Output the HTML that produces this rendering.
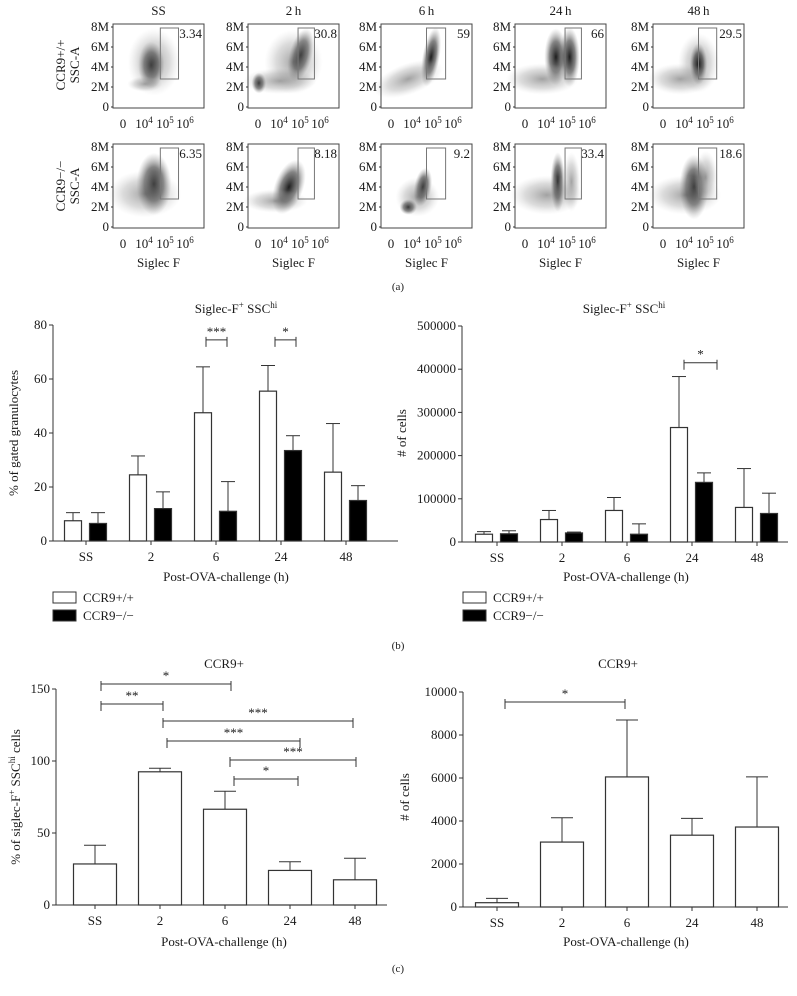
<!DOCTYPE html>
<html><head><meta charset="utf-8"><style>
html,body{margin:0;padding:0;background:#fff;}
svg{display:block;font-family:"Liberation Serif",serif;}
</style></head><body>
<svg id="fig" width="797" height="996" viewBox="0 0 797 996" xmlns="http://www.w3.org/2000/svg">
<defs>
<radialGradient id="blobD"><stop offset="0" stop-color="#111" stop-opacity="0.95"/><stop offset="0.55" stop-color="#333" stop-opacity="0.6"/><stop offset="1" stop-color="#888" stop-opacity="0"/></radialGradient>
<radialGradient id="blobL"><stop offset="0" stop-color="#555" stop-opacity="0.55"/><stop offset="0.6" stop-color="#888" stop-opacity="0.3"/><stop offset="1" stop-color="#bbb" stop-opacity="0"/></radialGradient>
</defs>
<g id="root"></g>
</svg>
<script>
// ---------- Flow panels data ----------
const flowCols = ["SS","2\u2009h","6\u2009h","24\u2009h","48\u2009h"];
const flowRow1Pct = ["3.34","30.8","59","66","29.5"];
const flowRow2Pct = ["6.35","8.18","9.2","33.4","18.6"];
const yTickLabelsFlow = ["8M","6M","4M","2M","0"];
// ---------- Chart (b) left ----------
const catsB = ["SS","2","6","24","48"];
const b1Wt = [7.5,24.5,47.5,55.5,25.5];
const b1WtErr = [10.5,31.5,64.5,65,43.5];
const b1Ko = [6.5,12,11,33.5,15];
const b1KoErr = [10.5,18.2,22,39,20.5];
const b1Ticks = [0,20,40,60,80];
// ---------- Chart (b) right ----------
const b2Wt = [18000,52000,73000,265000,80000];
const b2WtErr = [24000,73000,103000,383000,170000];
const b2Ko = [19000,21000,18000,138000,66000];
const b2KoErr = [26000,23000,42000,160000,113000];
const b2Ticks = [0,100000,200000,300000,400000,500000];
// ---------- Chart (c) ----------
const catsC = ["SS","2","6","24","48"];
const c1Vals = [28.5,92.5,66.5,24,17.5];
const c1Err = [41.5,95,79,30,32.5];
const c1Ticks = [0,50,100,150];
const c2Vals = [200,3020,6050,3340,3720];
const c2Err = [400,4150,8700,4120,6050];
const c2Ticks = [0,2000,4000,6000,8000,10000];

const NS="http://www.w3.org/2000/svg";
const root=document.getElementById('root');
function mk(tag,attrs,name,parent){
  const el=document.createElementNS(NS,tag);
  for(const k in attrs) el.setAttribute(k,attrs[k]);
  
  
  (parent||root).appendChild(el);
  return el;
}
function txt(x,y,s,size,name,anchor,extra){
  const t=mk('text',Object.assign({x:x,y:y,'font-size':size,'text-anchor':anchor||'middle',fill:'#1a1a1a'},extra||{}),name);
  t.textContent=s;return t;
}
function line(x1,y1,x2,y2,name,w,col){
  return mk('line',{x1:x1,y1:y1,x2:x2,y2:y2,stroke:col||'#333','stroke-width':w||1},name);
}

// ---------- Flow panels ----------
const boxX=[113,248,381,515,653], boxW=91;
const rowsY=[24,144], boxH=84;
const blobs=[
 [[[0.42,4.2,0.09,1.8,1,0],[0.35,2.3,0.12,0.6,0,0],[0.45,4.5,0.18,2.6,0,0]],
  [[0.58,5.2,0.08,2.1,1,15],[0.12,2.4,0.05,0.8,1,0],[0.35,2.6,0.25,1.0,0,0],[0.5,4.5,0.2,2.5,0,0]],
  [[0.55,5.0,0.06,2.3,1,10],[0.3,2.8,0.25,1.2,0,-20]],
  [[0.45,5.0,0.08,2.2,1,0],[0.6,5.0,0.07,2.3,1,0],[0.3,2.8,0.25,1.2,0,0]],
  [[0.5,4.4,0.14,2.3,0,0],[0.5,4.3,0.06,1.6,1,0],[0.3,2.8,0.22,1.2,0,0]]],
 [[[0.45,4.3,0.12,2.4,1,0],[0.35,3.3,0.25,1.8,0,0]],
  [[0.45,4.0,0.1,2.2,1,20],[0.3,2.6,0.22,0.9,0,0]],
  [[0.3,2.0,0.06,0.6,1,0],[0.46,4.0,0.06,1.5,1,10],[0.4,3.0,0.15,1.5,0,0]],
  [[0.47,4.5,0.05,2.3,1,0],[0.62,4.5,0.06,2.3,0,0],[0.35,3.2,0.25,1.5,0,0]],
  [[0.45,4.0,0.1,2.5,1,0],[0.58,5.0,0.08,2.0,0,0],[0.35,3.2,0.25,1.5,0,0]]]
];
const gates=[[0.52,0.72],[0.55,0.73],[0.5,0.71],[0.55,0.73],[0.5,0.7]];
flowCols.forEach((c,i)=>{
  txt(boxX[i]+boxW/2,15,c,13,'flow-column-title-'+i);
});
for(let r=0;r<2;r++){
  for(let i=0;i<5;i++){
    const x0=boxX[i], y0=rowsY[r];
    const yv=v=>y0+83-v*10;
    const g=mk('g',{},'flow-panel-r'+(r+1)+'-c'+(i+1));
    blobs[r][i].forEach((b,k)=>{
      const cx=x0+b[0]*boxW, cy=yv(b[1]);
      mk('ellipse',{cx:cx,cy:cy,rx:b[2]*boxW*1.6,ry:b[3]*10*1.3,fill:b[4]?'url(#blobD)':'url(#blobL)',transform:'rotate('+b[5]+' '+cx+' '+cy+')'},'flow-density-cloud',g);
    });
    mk('rect',{x:x0,y:y0,width:boxW,height:boxH,fill:'none',stroke:'#444','stroke-width':1},'flow-plot-frame',g);
    const gt=gates[i];
    mk('rect',{x:x0+gt[0]*boxW,y:yv(7.9),width:(gt[1]-gt[0])*boxW,height:(7.9-2.8)*10,fill:'none',stroke:'#777','stroke-width':1},'flow-gate',g);
    txt(x0+boxW-2,y0+14,(r==0?flowRow1Pct:flowRow2Pct)[i],13,'gate-percentage','end');
    yTickLabelsFlow.forEach((l,k)=>{
      txt(x0-4,yv(8-2*k)+4,l,13,'flow-y-tick-label','end');
      line(x0-2,yv(8-2*k),x0,yv(8-2*k),'flow-y-tick');
    });
    const lx=[x0+10,x0+31,x0+52,x0+72];
    const xl=['0','10','10','10'], sup=['','4','5','6'];
    lx.forEach((xx,k)=>{
      const t=mk('text',{x:xx,y:y0+104,'font-size':13,'text-anchor':'middle',fill:'#1a1a1a'},'flow-x-tick-label');
      t.textContent=xl[k];
      if(sup[k]){const s=mk('tspan',{dy:-5,'font-size':9},'superscript',t);s.textContent=sup[k];}
    });
    if(r==1) txt(x0+boxW/2,y0+123,'Siglec F',13,'flow-x-axis-title');
  }
}
[['CCR9+/+',65],['CCR9\u2212/\u2212',186]].forEach((p,k)=>{
  txt(0,0,p[0],13,'flow-row-label',null,{transform:'translate(65,'+p[1]+') rotate(-90)'});
  txt(0,0,'SSC-A',13,'flow-row-axis-title',null,{transform:'translate(79,'+p[1]+') rotate(-90)'});
});
txt(398,290,'(a)',11,'panel-label-a');
txt(398,649,'(b)',11,'panel-label-b');
txt(398,972,'(c)',11,'panel-label-c');

// ---------- Bar chart helper ----------
function barChart(o){
  const yS=v=>o.y0-(v/o.max)*(o.y0-o.yTop);
  const xS=i=>o.c0+o.step*i;
  const g=mk('g',{},o.name);
  line(o.ax,o.y0,o.ax,o.yTop,'y-axis');
  line(o.ax,o.y0,o.xEnd,o.y0,'x-axis');
  o.ticks.forEach(t=>{
    line(o.ax-4,yS(t),o.ax,yS(t),'y-tick');
    txt(o.ax-6,yS(t)+4,String(t),13,'y-tick-label','end');
  });
  o.cats.forEach((c,i)=>{
    line(xS(i),o.y0,xS(i),o.y0+4,'x-tick');
    txt(xS(i),o.y0+20,c,13,'x-tick-label');
  });
  o.series.forEach((s,si)=>{
    s.vals.forEach((v,i)=>{
      const cx=xS(i)+s.off;
      line(cx,yS(v),cx,yS(s.err[i]),'error-bar');
      line(cx-o.cap/2,yS(s.err[i]),cx+o.cap/2,yS(s.err[i]),'error-cap');
      mk('rect',{x:cx-o.bw/2,y:yS(v),width:o.bw,height:o.y0-yS(v),fill:s.fill,stroke:'#333','stroke-width':1.2},'bar-'+s.key+'-'+o.cats[i],g);
    });
  });
  (o.sig||[]).forEach(s=>{
    const y=yS(s[2]);
    line(xS(s[0])+s[4],y,xS(s[1])+s[5],y,'significance-bracket');
    line(xS(s[0])+s[4],y-3,xS(s[0])+s[4],y+7,'significance-bracket-end');
    line(xS(s[1])+s[5],y-3,xS(s[1])+s[5],y+7,'significance-bracket-end');
    txt((xS(s[0])+s[4]+xS(s[1])+s[5])/2,y-4,s[3],13,'significance-stars');
  });
  return yS;
}
function siglecTitle(x,y){
  const t=mk('text',{x:x,y:y,'font-size':13,'text-anchor':'middle',fill:'#1a1a1a'},'chart-title');
  t.textContent='Siglec-F';
  let s=mk('tspan',{dy:-5,'font-size':9},'superscript',t);s.textContent='+';
  s=mk('tspan',{dy:5},'title-part',t);s.textContent=' SSC';
  s=mk('tspan',{dy:-5,'font-size':9},'superscript',t);s.textContent='hi';
}
barChart({name:'chart-b-percent',ax:53,y0:541,yTop:325,max:80,xEnd:398,c0:86,step:65,bw:17,cap:14,ticks:b1Ticks,cats:catsB,
 series:[{key:'wt',vals:b1Wt,err:b1WtErr,fill:'#fff',off:-13},{key:'ko',vals:b1Ko,err:b1KoErr,fill:'#000',off:12}],
 sig:[[2,2,74.5,'***',-10,11],[3,3,74.5,'*',-6,15]]});
siglecTitle(236,313);
txt(226,581,'Post-OVA-challenge (h)',13,'x-axis-title');
txt(0,0,'% of gated granulocytes',13,'y-axis-title',null,{transform:'translate(18,433) rotate(-90)'});
barChart({name:'chart-b-count',ax:462,y0:542,yTop:326,max:500000,xEnd:788,c0:497,step:65,bw:17,cap:14,ticks:b2Ticks,cats:catsB,
 series:[{key:'wt',vals:b2Wt,err:b2WtErr,fill:'#fff',off:-13},{key:'ko',vals:b2Ko,err:b2KoErr,fill:'#000',off:12}],
 sig:[[3,3,415000,'*',-8,25]]});
siglecTitle(624,313);
txt(626,581,'Post-OVA-challenge (h)',13,'x-axis-title');
txt(0,0,'# of cells',13,'y-axis-title',null,{transform:'translate(406,433) rotate(-90)'});
[[53,'legend-b-left'],[463,'legend-b-right']].forEach(p=>{
  const g=mk('g',{},p[1]);
  mk('rect',{x:p[0],y:592,width:23,height:11,fill:'#fff',stroke:'#333'},'legend-swatch-wt',g);
  mk('rect',{x:p[0],y:610,width:23,height:11,fill:'#000',stroke:'#333'},'legend-swatch-ko',g);
  txt(p[0]+30,602,'CCR9+/+',13,'legend-label-wt','start');
  txt(p[0]+30,620,'CCR9\u2212/\u2212',13,'legend-label-ko','start');
});
barChart({name:'chart-c-percent',ax:56,y0:905,yTop:689,max:150,xEnd:387,c0:95,step:65,bw:43,cap:22,ticks:c1Ticks,cats:catsC,
 series:[{key:'ccr9',vals:c1Vals,err:c1Err,fill:'#fff',off:0}],
 sig:[[0,2,153.5,'*',6,6],[0,1,139.6,'**',6,3],[1,4,127.8,'***',3,-2],[1,3,113.9,'***',7,10],[2,4,100.7,'***',5,1],[2,3,87.5,'*',9,8]]});
txt(224,668,'CCR9+',13,'chart-title');
txt(224,946,'Post-OVA-challenge (h)',13,'x-axis-title');
(function(){
  const t=mk('text',{'font-size':13,'text-anchor':'middle',fill:'#1a1a1a',transform:'translate(20,797) rotate(-90)'},'y-axis-title');
  t.textContent='% of siglec-F';
  let s=mk('tspan',{dy:-5,'font-size':9},'superscript',t);s.textContent='+';
  s=mk('tspan',{dy:5},'title-part',t);s.textContent=' SSC';
  s=mk('tspan',{dy:-5,'font-size':9},'superscript',t);s.textContent='hi';
  s=mk('tspan',{dy:5},'title-part',t);s.textContent=' cells';
})();
barChart({name:'chart-c-count',ax:463,y0:907,yTop:692,max:10000,xEnd:788,c0:497,step:65,bw:43,cap:22,ticks:c2Ticks,cats:catsC,
 series:[{key:'ccr9',vals:c2Vals,err:c2Err,fill:'#fff',off:0}],
 sig:[[0,2,9535,'*',8,-2]]});
txt(618,668,'CCR9+',13,'chart-title');
txt(626,946,'Post-OVA-challenge (h)',13,'x-axis-title');
txt(0,0,'# of cells',13,'y-axis-title',null,{transform:'translate(409,797) rotate(-90)'});
</script>
</body></html>
